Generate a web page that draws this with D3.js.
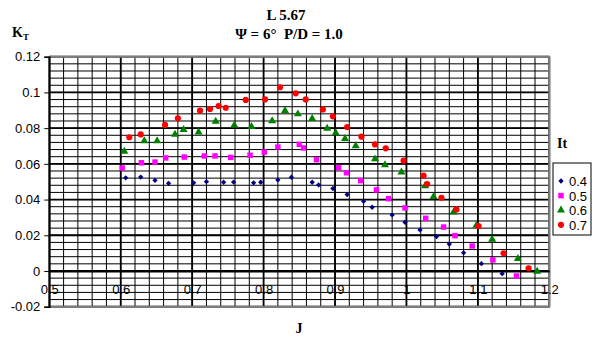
<!DOCTYPE html>
<html>
<head>
<meta charset="utf-8">
<script src="https://cdn.jsdelivr.net/npm/d3@7"></script>
<style>
body{margin:0;background:#fff}
svg{display:block;font-family:"Liberation Sans",Arial,sans-serif}
.ttl{font-family:"Liberation Serif","Times New Roman",serif;font-weight:bold;white-space:pre}
</style>
</head>
<body>
<svg id="chart" width="592" height="338"></svg>
<script>
// advance ratio J and thrust coefficient KT per It series
const series = ["0.4", "0.5", "0.6", "0.7"];

const jIt04 = [0.607,0.628,0.648,0.667,0.702,0.720,0.744,0.758,0.786,0.796,0.820,0.839,0.868,0.877,0.897,0.917,0.940,0.952,0.980,0.998,1.019,1.042,1.060,1.080,1.105,1.134];
const ktIt04 = [0.0522,0.0526,0.0508,0.0491,0.0494,0.0500,0.0497,0.0498,0.0494,0.0497,0.0510,0.0525,0.0497,0.0482,0.0462,0.0428,0.0390,0.0357,0.0314,0.0273,0.0230,0.0192,0.0151,0.0102,0.0041,-0.0015];

const jIt05 = [0.602,0.629,0.648,0.663,0.689,0.717,0.732,0.754,0.781,0.801,0.820,0.850,0.856,0.874,0.905,0.916,0.936,0.958,0.975,0.998,1.027,1.052,1.068,1.092,1.121,1.154];
const ktIt05 = [0.0577,0.0606,0.0610,0.0633,0.0638,0.0644,0.0644,0.0636,0.0648,0.0666,0.0694,0.0709,0.0689,0.0623,0.0578,0.0550,0.0506,0.0454,0.0405,0.0353,0.0295,0.0246,0.0198,0.0140,0.0062,-0.0028];

const jIt06 = [0.605,0.633,0.651,0.676,0.688,0.709,0.733,0.759,0.783,0.812,0.830,0.848,0.868,0.889,0.901,0.914,0.929,0.956,0.970,0.993,1.026,1.038,1.066,1.098,1.120,1.156,1.183];
const ktIt06 = [0.0670,0.0728,0.0728,0.0765,0.0791,0.0777,0.0838,0.0816,0.0808,0.0840,0.0898,0.0879,0.0853,0.0799,0.0773,0.0741,0.0700,0.0627,0.0594,0.0554,0.0476,0.0416,0.0329,0.0255,0.0177,0.0069,-0.0002];

const jIt07 = [0.612,0.628,0.662,0.680,0.711,0.725,0.737,0.747,0.775,0.802,0.823,0.845,0.859,0.883,0.897,0.917,0.937,0.956,0.971,0.996,1.024,1.029,1.049,1.070,1.101,1.136,1.171];
const ktIt07 = [0.0749,0.0765,0.0818,0.0855,0.0898,0.0907,0.0924,0.0914,0.0958,0.0961,0.1029,0.0995,0.0961,0.0905,0.0866,0.0806,0.0752,0.0709,0.0687,0.0618,0.0534,0.0487,0.0410,0.0345,0.0252,0.0099,0.0015];

const xTicks = [0.5, 0.6, 0.7, 0.8, 0.9, 1.0, 1.1, 1.2];
const xTickLabels = ["0.5", "0.6", "0.7", "0.8", "0.9", "1", "1.1", "1.2"];
const yTicks = [-0.02, 0, 0.02, 0.04, 0.06, 0.08, 0.1, 0.12];
const yTickLabels = ["-0.02", "0", "0.02", "0.04", "0.06", "0.08", "0.1", "0.12"];

const colors = ["#000080", "#FF00FF", "#008000", "#FF0000"];
const shapes = [d3.symbolSquare, d3.symbolSquare, d3.symbolTriangle, d3.symbolCircle];
const sizes = [14, 30, 28, 30];
const rot = [45, 0, 0, 0];

const svg = d3.select("#chart");

const x = d3.scaleLinear().domain([0.5, 1.2]).range([49.3, 549.3]);
const y = d3.scaleLinear().domain([-0.02, 0.12]).range([306.7, 56.7]);

// grid
const grid = svg.append("g");
const minorX = d3.range(0, 36).map(i => 0.5 + i * 0.02);
const minorY = d3.range(0, 36).map(i => -0.02 + i * 0.004);

grid.selectAll(".mx").data(minorX).enter().append("line")
    .attr("x1", d => x(d)).attr("x2", d => x(d))
    .attr("y1", y(0.12)).attr("y2", y(-0.02))
    .attr("stroke", "#000").attr("stroke-width", 1);

grid.selectAll(".my").data(minorY).enter().append("line")
    .attr("x1", x(0.5)).attr("x2", x(1.2))
    .attr("y1", d => y(d)).attr("y2", d => y(d))
    .attr("stroke", "#000").attr("stroke-width", 1);

grid.selectAll(".Mx").data(xTicks).enter().append("line")
    .attr("x1", d => x(d)).attr("x2", d => x(d))
    .attr("y1", y(0.12)).attr("y2", y(-0.02))
    .attr("stroke", "#000").attr("stroke-width", 1.8);

grid.selectAll(".My").data(yTicks).enter().append("line")
    .attr("x1", x(0.5)).attr("x2", x(1.2))
    .attr("y1", d => y(d)).attr("y2", d => y(d))
    .attr("stroke", "#000").attr("stroke-width", 1.8);

// plot border
svg.append("path")
    .attr("d", `M${x(0.5)},${y(0.12)}H${x(1.2)}V${y(-0.02)}H${x(0.5)}`)
    .attr("fill", "none").attr("stroke", "#808080").attr("stroke-width", 2);

// y axis
const yAxis = svg.append("g")
    .attr("transform", `translate(${x(0.5)},0)`)
    .call(d3.axisLeft(y).tickValues(yTicks).tickSize(5).tickPadding(4)
        .tickFormat((d, i) => yTickLabels[i]));
yAxis.select(".domain").attr("stroke", "#000").attr("stroke-width", 1.5);
yAxis.selectAll("text").attr("font-size", 13).attr("font-family", "Liberation Sans, Arial, sans-serif").attr("fill", "#000");

// x axis through zero
const xAxis = svg.append("g")
    .attr("transform", `translate(0,${y(0)})`)
    .call(d3.axisBottom(x).tickValues(xTicks).tickSize(0).tickPadding(14)
        .tickFormat((d, i) => xTickLabels[i]));
xAxis.select(".domain").attr("stroke", "#000").attr("stroke-width", 1.8);
xAxis.selectAll("text").attr("font-size", 13).attr("font-family", "Liberation Sans, Arial, sans-serif").attr("fill", "#000");

// points
const allJ = [jIt04, jIt05, jIt06, jIt07];
const allKt = [ktIt04, ktIt05, ktIt06, ktIt07];
series.forEach((s, k) => {
    const pts = allJ[k].map((j, i) => [j, allKt[k][i]]);
    svg.append("g").selectAll("path").data(pts).enter().append("path")
        .attr("d", d3.symbol().type(shapes[k]).size(sizes[k]))
        .attr("transform", d => `translate(${x(d[0])},${y(d[1])}) rotate(${rot[k]})`)
        .attr("fill", colors[k]);
});

// titles
svg.append("text").attr("class", "ttl").attr("x", 286).attr("y", 20)
    .attr("text-anchor", "middle").attr("font-size", 15).text("L 5.67");
svg.append("text").attr("class", "ttl").attr("x", 289).attr("y", 39)
    .attr("text-anchor", "middle").attr("font-size", 15).text("Ψ = 6°  P/D = 1.0");

const kt = svg.append("text").attr("class", "ttl").attr("x", 12).attr("y", 37).attr("font-size", 14);
kt.append("tspan").text("K");
kt.append("tspan").attr("font-size", 9).attr("dy", 3).text("T");

svg.append("text").attr("class", "ttl").attr("x", 299).attr("y", 333)
    .attr("text-anchor", "middle").attr("font-size", 14).text("J");

// legend
svg.append("text").attr("class", "ttl").attr("x", 562).attr("y", 148)
    .attr("text-anchor", "middle").attr("font-size", 14).text("It");

const legend = svg.append("g").attr("transform", "translate(553,163)");
legend.append("rect").attr("width", 38).attr("height", 72)
    .attr("fill", "#fff").attr("stroke", "#000").attr("stroke-width", 1);
const rows = legend.selectAll(".row").data(series).enter().append("g")
    .attr("transform", (d, i) => `translate(0,${18 + i * 14.6})`);
rows.append("path")
    .attr("d", (d, i) => d3.symbol().type(shapes[i]).size(sizes[i])())
    .attr("transform", (d, i) => `translate(8,0) rotate(${rot[i]})`)
    .attr("fill", (d, i) => colors[i]);
rows.append("text").attr("x", 16).attr("y", 5).attr("font-size", 13).text(d => d);
</script>
</body>
</html>
